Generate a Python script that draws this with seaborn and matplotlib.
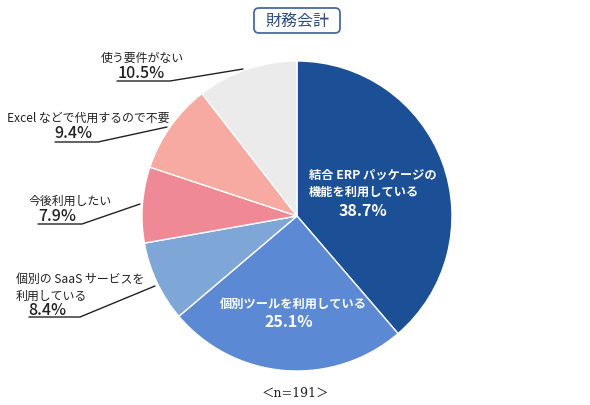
import matplotlib
matplotlib.use("Agg")
import matplotlib.pyplot as plt
from matplotlib.patches import FancyBboxPatch
import seaborn as sns

# ---- data ----
categories = ["結合 ERP パッケージの\n機能を利用している", "個別ツールを利用している",
              "個別の SaaS サービスを\n利用している", "今後利用したい",
              "Excel などで代用するので不要", "使う要件がない"]
values = [38.7, 25.1, 8.4, 7.9, 9.4, 10.5]
pct_labels = ["38.7%", "25.1%", "8.4%", "7.9%", "9.4%", "10.5%"]
colors = ["#1C5096", "#5B89D4", "#7EA6D7", "#EE8995", "#F6AAA2", "#EBEBEB"]
title = "財務会計"
note = "＜n=191＞"

sns.set_theme(style="white")
plt.rcParams["font.family"] = ["Noto Sans CJK JP", "DejaVu Sans"]

W, H = 590, 406
fig = plt.figure(figsize=(W / 100, H / 100), dpi=100)
ax = fig.add_axes([0, 0, 1, 1])

def P(x, y):
    return (x, H - y)

cx, cy, R = 297, 217, 155
ax.pie(values, colors=colors, startangle=90, counterclock=False,
       center=P(cx, cy), radius=R, frame=True,
       wedgeprops=dict(edgecolor="white", linewidth=1.0))
ax.set_xlim(0, W)
ax.set_ylim(0, H)
ax.set_aspect("equal")
ax.axis("off")

# title box
box = FancyBboxPatch(P(254, 34), 86, 25, boxstyle="round,pad=0,rounding_size=5",
                     fc="white", ec="#4A6A99", lw=1.3)
ax.add_patch(box)
ax.text(*P(297, 21), title, ha="center", va="center", fontsize=11.5, color="#2F4F80")

# inside labels
ax.text(*P(309, 184), categories[0], ha="left", va="center", fontsize=8.8,
        color="white", fontweight="bold", linespacing=1.45)
ax.text(*P(363, 211), pct_labels[0], ha="center", va="center", fontsize=11.5,
        color="white", fontweight="bold")
ax.text(*P(293, 304), categories[1], ha="center", va="center", fontsize=8.8,
        color="white", fontweight="bold")
ax.text(*P(289, 322), pct_labels[1], ha="center", va="center", fontsize=11.5,
        color="white", fontweight="bold")

# outside labels
lk = dict(color="#222222", lw=1.0)
def outside(cat_xy, cat_text, pct_xy, pct_text, under, tip, ha="center"):
    ax.text(*P(*cat_xy), cat_text, ha=ha, va="center", fontsize=8.6,
            color="#222222", linespacing=1.35)
    ax.text(*P(*pct_xy), pct_text, ha="center", va="center", fontsize=11.5,
            color="#222222", fontweight="medium")
    (x0, x1, y) = under
    xs = [x0, x1, tip[0]]
    ys = [H - y, H - y, H - tip[1]]
    ax.plot(xs, ys, **lk)

outside((142, 58), categories[5], (141, 73), pct_labels[5], (117, 170, 82), (243, 70))
outside((7, 118), categories[4], (73, 134), pct_labels[4], (55, 98, 143), (167, 128), ha="left")
outside((70, 201), categories[3], (57, 217), pct_labels[3], (38, 82, 225), (140, 205))
outside((16, 288), categories[2], (47, 311), pct_labels[2], (29, 80, 318), (155, 287), ha="left")

ax.text(*P(295, 393), note, ha="center", va="center", fontsize=9,
        color="#222222", family=["DejaVu Serif", "Noto Sans CJK JP"])

fig.savefig("out.png", dpi=100)
